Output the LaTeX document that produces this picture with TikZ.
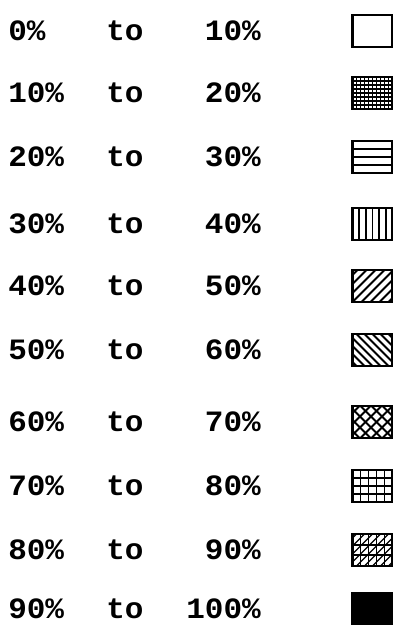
\documentclass[tikz,border=0pt]{standalone}
\usepackage{fontspec}
\newfontfamily\typewriter[FakeStretch=1.05]{Liberation Mono}

\begin{document}
\begin{tikzpicture}[
    x=0.025cm,y=-0.025cm,
    pct/.style={font=\typewriter\bfseries\fontsize{21}{21}\selectfont,inner sep=0pt},
    swatch/.style={draw,line width=2.1pt,minimum width=1cm,minimum height=0.8cm,inner sep=0pt},
    hatchline/.style={line width=1.3pt},
    dotline/.style={line width=1pt}
  ]
  \useasboundingbox (0,0) rectangle (393,625);

  % Legend rows
  \foreach \lo/\hi/\y [count=\i] in {0/10/31,10/20/93,20/30/157,30/40/224,40/50/286,
      50/60/350,60/70/422,70/80/486,80/90/550,90/100/609} {
    \node[pct,anchor=base west] (lo\i) at (8,\y+9) {\lo\%};
    \node[pct,anchor=base west] (to\i) at (106,\y+9) {to};
    \node[pct,anchor=base east] (hi\i) at (261,\y+9) {\hi\%};
    \node[swatch] (box\i) at (372.5,\y) {};
  }

  % 10% to 20%: stipple
  \begin{scope}[shift={(box2.center)}]
    \clip (-20,-16) rectangle (20,16);
    \foreach \u in {-20,-16,...,20} \draw[dotline] (\u,-16) -- (\u,16);
    \foreach \v in {-16,-12,...,16} \draw[dotline] (-20,\v) -- (20,\v);
  \end{scope}

  % 20% to 30%: horizontal lines
  \begin{scope}[shift={(box3.center)}]
    \foreach \v in {-8,0,8} \draw[hatchline] (-20,\v) -- (20,\v);
  \end{scope}

  % 30% to 40%: vertical lines
  \begin{scope}[shift={(box4.center)}]
    \foreach \u in {-13.4,-6.7,0,6.7,13.4} \draw[hatchline] (\u,-16) -- (\u,16);
  \end{scope}

  % 40% to 50%: rising diagonals
  \begin{scope}[shift={(box5.center)}]
    \clip (-20,-16) rectangle (20,16);
    \foreach \a in {-56,-47,...,20} \draw[hatchline] (\a,16) -- (\a+32,-16);
  \end{scope}

  % 50% to 60%: falling diagonals
  \begin{scope}[shift={(box6.center)}]
    \clip (-20,-16) rectangle (20,16);
    \foreach \a in {-56,-48,...,20} \draw[hatchline] (\a,-16) -- (\a+32,16);
  \end{scope}

  % 60% to 70%: diagonal crosshatch
  \begin{scope}[shift={(box7.center)}]
    \clip (-20,-16) rectangle (20,16);
    \foreach \a in {-56,-45,...,20} {
      \draw[hatchline] (\a,16) -- (\a+32,-16);
      \draw[hatchline] (\a,-16) -- (\a+32,16);
    }
  \end{scope}

  % 70% to 80%: square grid
  \begin{scope}[shift={(box8.center)}]
    \foreach \u in {-12,-4,4,12} \draw[hatchline] (\u,-16) -- (\u,16);
    \foreach \v in {-8,0,8} \draw[hatchline] (-20,\v) -- (20,\v);
  \end{scope}

  % 80% to 90%: grid with diagonals
  \begin{scope}[shift={(box9.center)}]
    \clip (-20,-16) rectangle (20,16);
    \foreach \u in {-12,-4,4,12} \draw[hatchline] (\u,-16) -- (\u,16);
    \foreach \v in {-5.3,5.3} \draw[hatchline] (-20,\v) -- (20,\v);
    \foreach \a in {-56,-48,...,20} \draw[line width=0.9pt] (\a,16) -- (\a+32,-16);
  \end{scope}

  % 90% to 100%: solid
  \fill (box10.south west) rectangle (box10.north east);

\end{tikzpicture}
\end{document}
